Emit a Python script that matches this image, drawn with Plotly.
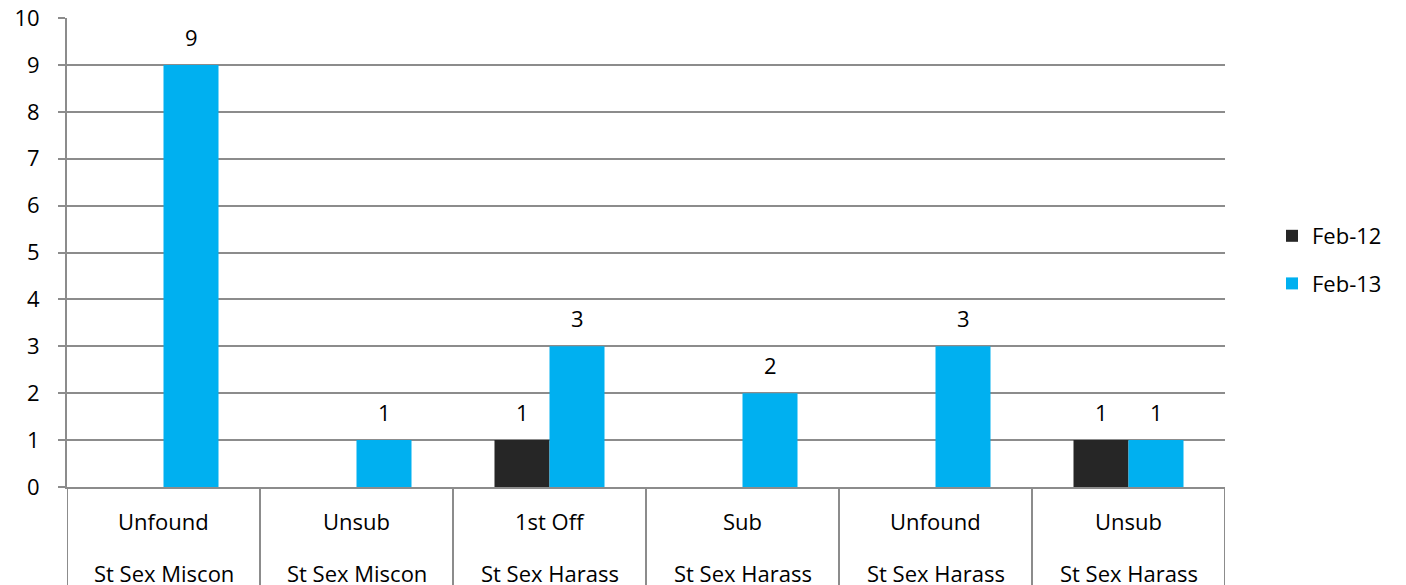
import plotly.graph_objects as go

categories_top = ["Unfound", "Unsub", "1st Off", "Sub", "Unfound", "Unsub"]
categories_bottom = ["St Sex Miscon", "St Sex Miscon", "St Sex Harass",
                     "St Sex Harass", "St Sex Harass", "St Sex Harass"]
series_names = ["Feb-12", "Feb-13"]
feb12 = [0, 0, 1, 0, 0, 1]
feb13 = [9, 1, 3, 2, 3, 1]
y_ticks = list(range(0, 11))

colors = ["#262626", "#00B0F0"]
FONT = "Open Sans"
FS = 22
GRID = "#8c8c8c"
bargap = 0.43
x_idx = list(range(len(categories_top)))

fig = go.Figure()
for name, vals, col in zip(series_names, [feb12, feb13], colors):
    fig.add_trace(go.Bar(x=x_idx, y=vals, name=name, marker=dict(color=col, line=dict(width=0)),
                         legendgroup=name))

half = (1 - bargap) / 2
annotations = []
for s, vals in enumerate([feb12, feb13]):
    off = -half / 2 if s == 0 else half / 2
    for i, v in enumerate(vals):
        if v > 0:
            annotations.append(dict(x=i + off, y=v, xref="x", yref="y", text=str(v),
                                    showarrow=False, yshift=28, yanchor="middle",
                                    font=dict(family=FONT, size=FS, color="#000")))
for i, (t, b) in enumerate(zip(categories_top, categories_bottom)):
    annotations.append(dict(x=i, y=-0.0725, xref="x", yref="paper", text=t, showarrow=False,
                            yanchor="middle", font=dict(family=FONT, size=FS, color="#000")))
    annotations.append(dict(x=i, y=-0.183, xref="x", yref="paper", text=b, showarrow=False,
                            yanchor="middle", font=dict(family=FONT, size=FS, color="#000")))

shapes = []
for k in range(len(categories_top) + 1):
    shapes.append(dict(type="line", xref="x", yref="paper", x0=k - 0.5, x1=k - 0.5,
                       y0=0, y1=-0.3, line=dict(color=GRID, width=2)))

fig.update_layout(
    width=1398, height=577,
    margin=dict(l=59, r=181, t=10, b=98, autoexpand=False),
    paper_bgcolor="white", plot_bgcolor="white",
    barmode="group", bargap=bargap, bargroupgap=0,
    font=dict(family=FONT, size=FS, color="#000"),
    xaxis=dict(range=[-0.5, 5.5], showticklabels=False, showgrid=False, zeroline=False,
               showline=True, linecolor=GRID, linewidth=2, ticks="", automargin=False),
    yaxis=dict(range=[0, 10.0005], tickvals=y_ticks, showgrid=True, gridcolor=GRID, gridwidth=1.5,
               zeroline=False, showline=True, linecolor=GRID, linewidth=2,
               ticks="outside", ticklen=7, tickcolor=GRID, tickwidth=1.5, automargin=False,
               ticklabelstandoff=14, ticklabeloverflow="allow",
               tickfont=dict(family=FONT, size=FS, color="#000")),
    legend=dict(x=1.0406, y=0.484, xanchor="left", yanchor="middle",
                font=dict(family=FONT, size=FS, color="#000"), tracegroupgap=16,
                itemwidth=30, bgcolor="rgba(0,0,0,0)"),
    annotations=annotations, shapes=shapes,
)
fig.write_html("out.html")
